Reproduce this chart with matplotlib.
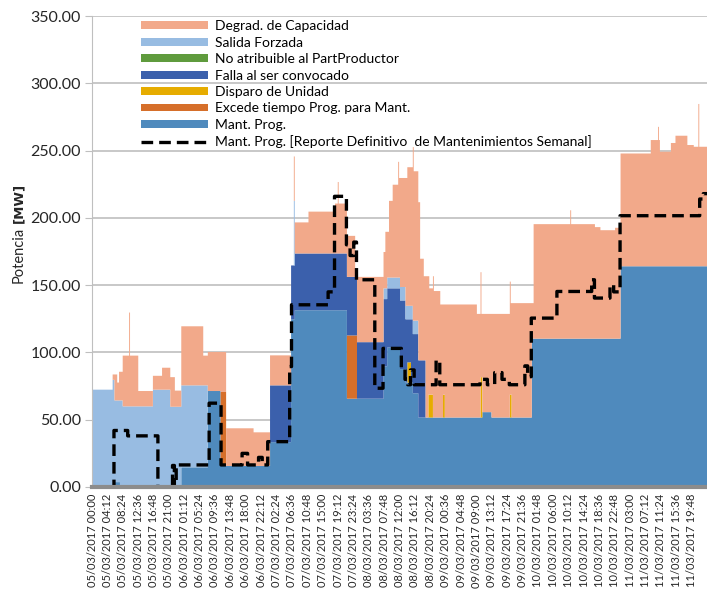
import numpy as np
import pandas as pd
import matplotlib
matplotlib.use("Agg")
import matplotlib.pyplot as plt
from matplotlib.patches import Patch
from matplotlib.lines import Line2D

plt.rcParams['font.family'] = ['Lato', 'DejaVu Sans']

# Step series: start hour (counted from 05/03/2017 00:00) and MW value
mant_t = [0, 5.5, 7.4, 24.1, 31.4, 35.0, 48.4, 54.1, 55.2, 69.4, 79.4, 80.5, 83.9, 85.5,
          87.5, 88.9, 106.3, 109.0, 120.0, 144.1]
mant_v = [0, 4, 0, 15, 71.7, 16, 33.7, 125, 131.7, 66, 90, 104, 88, 78,
          70, 52, 56, 52, 110.6, 164.4]

excede_t = [0, 35.0, 36.4, 69.4, 72.1]
excede_v = [0, 55, 0, 47, 0]

disparo_t = [0, 86.0, 87.0, 91.6, 93.0, 95.7, 96.2, 105.8, 106.3, 114.0, 114.5]
disparo_v = [0, 15, 0, 17, 0, 17, 0, 30, 0, 17, 0]

falla_t = [0, 48.4, 54.1, 55.2, 69.4, 72.1, 79.4, 80.5, 83.9, 85.5, 86.0, 87.0, 87.5, 88.9, 90.8]
falla_v = [0, 42.2, 40, 42.2, 43.5, 42, 50, 44, 51, 47, 32, 47, 44, 42.5, 0]

no_atrib_t = [0]
no_atrib_v = [0]

salida_t = [0, 5.5, 6.0, 7.4, 8.2, 16.4, 21.1, 24.1, 31.4, 55.0, 55.25, 79.4, 83.9, 88.9]
salida_v = [72.7, 76, 60.7, 64.7, 60.3, 72.7, 60, 60.9, 0, 48, 0, 8, 10, 0]

# upper envelope of the stacked areas (Degrad. de Capacidad fills up to it)
total_t = [0, 5.5, 6.6, 7.2, 8.2, 10.0, 10.25, 12.3, 16.4, 19.0, 21.1, 22.5, 24.1, 30.1,
           31.4, 36.4, 44.0, 48.4, 54.1, 55.0, 55.25, 58.8, 66.2, 67.0, 67.25, 69.4, 71.6,
           79.4, 80.0, 80.8, 82.0, 83.5, 83.75, 86.0, 87.5, 87.75, 88.9, 89.5, 90.3, 92.0,
           93.0, 93.25, 94.9, 104.9, 106.0, 106.25, 114.0, 114.25, 120.4, 130.4, 130.65,
           137.2, 138.6, 142.7, 144.1, 152.3, 154.5, 154.75, 155.0, 157.8, 159.1, 162.3,
           164.1, 165.5, 165.75]
total_v = [72.7, 84, 78, 86, 98, 130, 98, 71.7, 83, 89, 82, 72, 119.8, 98,
           100.7, 44, 41, 98.2, 150, 246, 197, 205, 211, 227, 211, 187, 156.5,
           175, 190, 213, 225, 242, 230, 238, 253, 235, 212, 170, 157, 148,
           157, 146, 136, 129, 160, 129, 153, 137, 195.7, 206, 195.7,
           193.5, 191.2, 193, 248.2, 258.2, 268, 258.2, 249.5, 256, 261.4, 254.5,
           253.2, 285, 253.2]

reporte_t = [0, 5.9, 9.6, 18.0, 22.0, 22.5, 23.0, 31.9, 35.1, 41.0, 42.4, 45.5, 46.5, 47.8,
             54.0, 54.4, 64.3, 66.2, 69.4, 70.5, 71.5, 72.1, 77.1, 79.4, 84.4, 85.5, 86.2,
             87.0, 88.0, 94.0, 95.0, 105.8, 108.0, 110.0, 112.0, 114.0, 118.1, 119.0, 120.0,
             126.8, 136.3, 137.2, 141.3, 142.5, 144.1, 165.8, 167.0]
reporte_v = [0, 42, 38, 0, 16, 0, 16.4, 62.3, 16.4, 25, 16.4, 22, 16.4, 33.7,
             89.5, 135.4, 145, 216, 180, 172, 182, 154, 73.4, 103, 88, 80, 76,
             87, 76, 94, 76, 80, 76, 85, 80, 76, 90, 82, 125.5,
             145.3, 154, 140.4, 150, 145, 201.6, 214, 218]

labels = ['Degrad. de Capacidad', 'Salida Forzada', 'No atribuible al PartProductor',
          'Falla al ser convocado', 'Disparo de Unidad', 'Excede tiempo Prog. para Mant.',
          'Mant. Prog.', 'Mant. Prog. [Reporte Definitivo  de Mantenimientos Semanal]']
colors = ['#F2A98A', '#98BCE2', '#5F9B3D', '#3B60AC', '#E6AC00', '#D66F2A', '#4F8ABD']


def steps(ts, vs, grid):
    idx = np.searchsorted(np.asarray(ts), grid, side='right') - 1
    return np.asarray(vs, float)[idx]


grid = np.arange(0, 168.25, 0.25)
mant = steps(mant_t, mant_v, grid)
excede = steps(excede_t, excede_v, grid)
disparo = steps(disparo_t, disparo_v, grid)
falla = steps(falla_t, falla_v, grid)
no_atrib = steps(no_atrib_t, no_atrib_v, grid)
salida = steps(salida_t, salida_v, grid)
total = steps(total_t, total_v, grid)
reporte = steps(reporte_t, reporte_v, grid)

layers = [mant, excede, disparo, falla, no_atrib, salida]
degrad = np.clip(total - sum(layers), 0, None)
layers.append(degrad)
layer_colors = colors[::-1]

fig = plt.figure(figsize=(7.07, 6.0), dpi=100)
ax = fig.add_axes([92 / 707, 113 / 600, 615 / 707, 471 / 600])

base = np.zeros_like(grid)
for layer, c in zip(layers, layer_colors):
    ax.fill_between(grid, base, base + layer, step='post', color=c, lw=0)
    base = base + layer

ax.plot(grid, reporte, drawstyle='steps-post', color='black', lw=2.4,
        ls=(0, (3.5, 1.8)))

# axes
ax.set_xlim(0, 168)
ax.set_ylim(0, 350)
ticks = np.arange(40) * 4.2
tick_lbl = pd.date_range('2017-03-05 00:00', periods=40, freq='252min').strftime('%d/%m/%Y %H:%M')
ax.set_xticks(ticks)
ax.set_xticklabels(tick_lbl, rotation=90, fontsize=8, color='#262626')
ax.set_yticks(np.arange(0, 351, 50))
ax.set_yticklabels([f'{v:.2f}' for v in np.arange(0, 351, 50)], fontsize=11.5, color='#262626')
ax.tick_params(axis='x', length=0, pad=5)
ax.tick_params(axis='y', length=5, color='#BFBFBF', pad=3)
ax.yaxis.grid(True, color='#BFBFBF', lw=1.2)
ax.set_axisbelow(True)
for s in ['top', 'right']:
    ax.spines[s].set_visible(False)
ax.spines['left'].set_color('#BFBFBF')
ax.spines['bottom'].set_color('#8C8C8C')
ax.spines['bottom'].set_linewidth(3)

# y label: "Potencia" regular + "[MW]" bold
fig.canvas.draw()
t1 = fig.text(19 / 707, 1 - 283 / 600, 'Potencia', rotation=90, ha='center', va='bottom',
              fontsize=10.5, color='#262626')
bb = t1.get_window_extent(fig.canvas.get_renderer())
fig.text(19 / 707, (bb.y1 + 4) / 600, '[MW]', rotation=90, ha='center', va='bottom',
         fontsize=9.5, fontweight='bold', family='DejaVu Sans', color='#262626')

handles = [Patch(facecolor=c) for c in colors]
handles.append(Line2D([0], [0], color='black', lw=2.4, ls=(0, (3.5, 1.8))))
ax.legend(handles, labels, loc='upper left', bbox_to_anchor=(0.075, 0.997), frameon=False,
          fontsize=10, handlelength=4.8, handleheight=0.5, labelspacing=0.32,
          handletextpad=0.5, borderaxespad=0, borderpad=0.2)

fig.savefig('out.png', dpi=100)
